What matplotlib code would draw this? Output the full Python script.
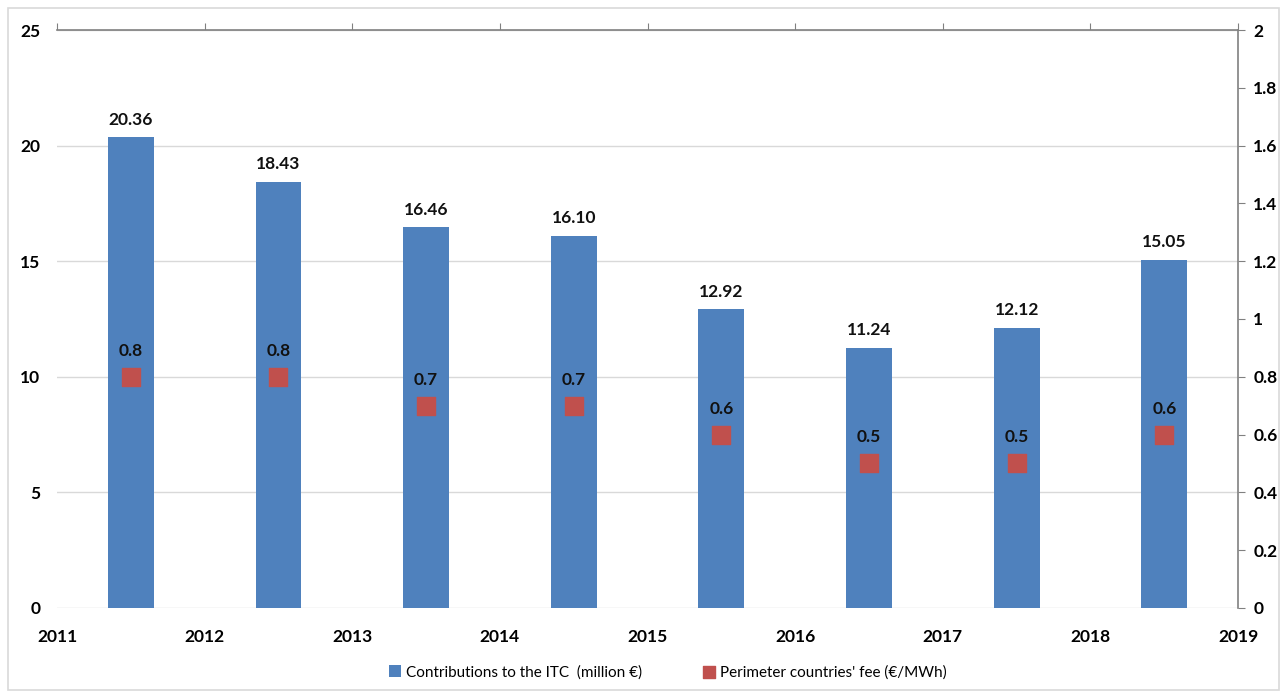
import matplotlib.pyplot as plt
from matplotlib.patches import Rectangle

# Data
years = [2011, 2012, 2013, 2014, 2015, 2016, 2017, 2018]
contributions = [20.36, 18.43, 16.46, 16.10, 12.92, 11.24, 12.12, 15.05]
fees = [0.8, 0.8, 0.7, 0.7, 0.6, 0.5, 0.5, 0.6]
year_ticks = [2011, 2012, 2013, 2014, 2015, 2016, 2017, 2018, 2019]

bar_color = '#4F81BD'
fee_color = '#C0504D'
axis_gray = '#808080'

plt.rcParams['font.family'] = ['Lato', 'DejaVu Sans']

fig = plt.figure(figsize=(12.87, 6.93), dpi=100)
ax = fig.add_axes([0.0443, 0.1227, 0.9177, 0.834])
ax2 = ax.twinx()

# chart-area border
fig.patches.append(Rectangle((0.006, 0.004), 0.988, 0.984, transform=fig.transFigure,
                             fill=False, edgecolor='#d9d9d9', linewidth=1.2))

centers = [y + 0.5 for y in years]
ax.bar(centers, contributions, width=0.31, color=bar_color,
       label='Contributions to the ITC  (million €)', zorder=2)
for x, v in zip(centers, contributions):
    ax.annotate(f'{v:.2f}', (x, v), xytext=(0, 7), textcoords='offset points',
                ha='center', va='bottom', fontsize=12.5, fontweight='bold', color='#111111')

ax.set_xlim(2011, 2019)
ax.set_ylim(0, 25)
ax.set_yticks([0, 5, 10, 15, 20, 25])
ax.set_xticks(year_ticks)
ax.set_xticklabels([str(y) for y in year_ticks])
ax.grid(axis='y', color='#d9d9d9', linewidth=1, zorder=0)
ax.set_axisbelow(True)
for s in ['left', 'bottom', 'right']:
    ax.spines[s].set_visible(False)
ax.spines['top'].set_color(axis_gray)
ax.spines['top'].set_linewidth(1.2)
ax.tick_params(axis='x', bottom=False, top=True, labelbottom=True, labeltop=False,
               direction='out', length=5, color=axis_gray, pad=10, labelsize=12.5)
ax.tick_params(axis='y', which='both', left=False, right=False, length=0,
               labelleft=True, labelsize=12.5, pad=12)
for lbl in ax.get_xticklabels() + ax.get_yticklabels():
    lbl.set_fontweight('bold')

ax2.scatter(centers, fees, marker='s', s=150, color=fee_color, zorder=3,
            label="Perimeter countries' fee (€/MWh)")
for x, v in zip(centers, fees):
    ax2.annotate(f'{v:g}', (x, v), xytext=(0, 13), textcoords='offset points',
                 ha='center', va='bottom', fontsize=12.5, fontweight='bold', color='#111111')
ax2.set_ylim(0, 2)
ax2.set_yticks([0, 0.2, 0.4, 0.6, 0.8, 1.0, 1.2, 1.4, 1.6, 1.8, 2.0])
ax2.set_yticklabels(['0', '0.2', '0.4', '0.6', '0.8', '1', '1.2', '1.4', '1.6', '1.8', '2'])
for s in ['left', 'bottom', 'top']:
    ax2.spines[s].set_visible(False)
ax2.spines['right'].set_color(axis_gray)
ax2.spines['right'].set_linewidth(1.2)
ax2.tick_params(axis='y', left=False, right=True, direction='out', length=5,
                color=axis_gray, labelsize=12.5, pad=6)
for lbl in ax2.get_yticklabels():
    lbl.set_fontweight('bold')

h1, l1 = ax.get_legend_handles_labels()
h2, l2 = ax2.get_legend_handles_labels()
fig.legend(h1 + h2, l1 + l2, loc='center', bbox_to_anchor=(0.519, 0.03), ncol=2,
           frameon=False, prop={'size': 11}, handlelength=0.8, handleheight=0.8,
           handletextpad=0.3, columnspacing=4.0, markerscale=0.7)

fig.savefig('out.png', dpi=100)
